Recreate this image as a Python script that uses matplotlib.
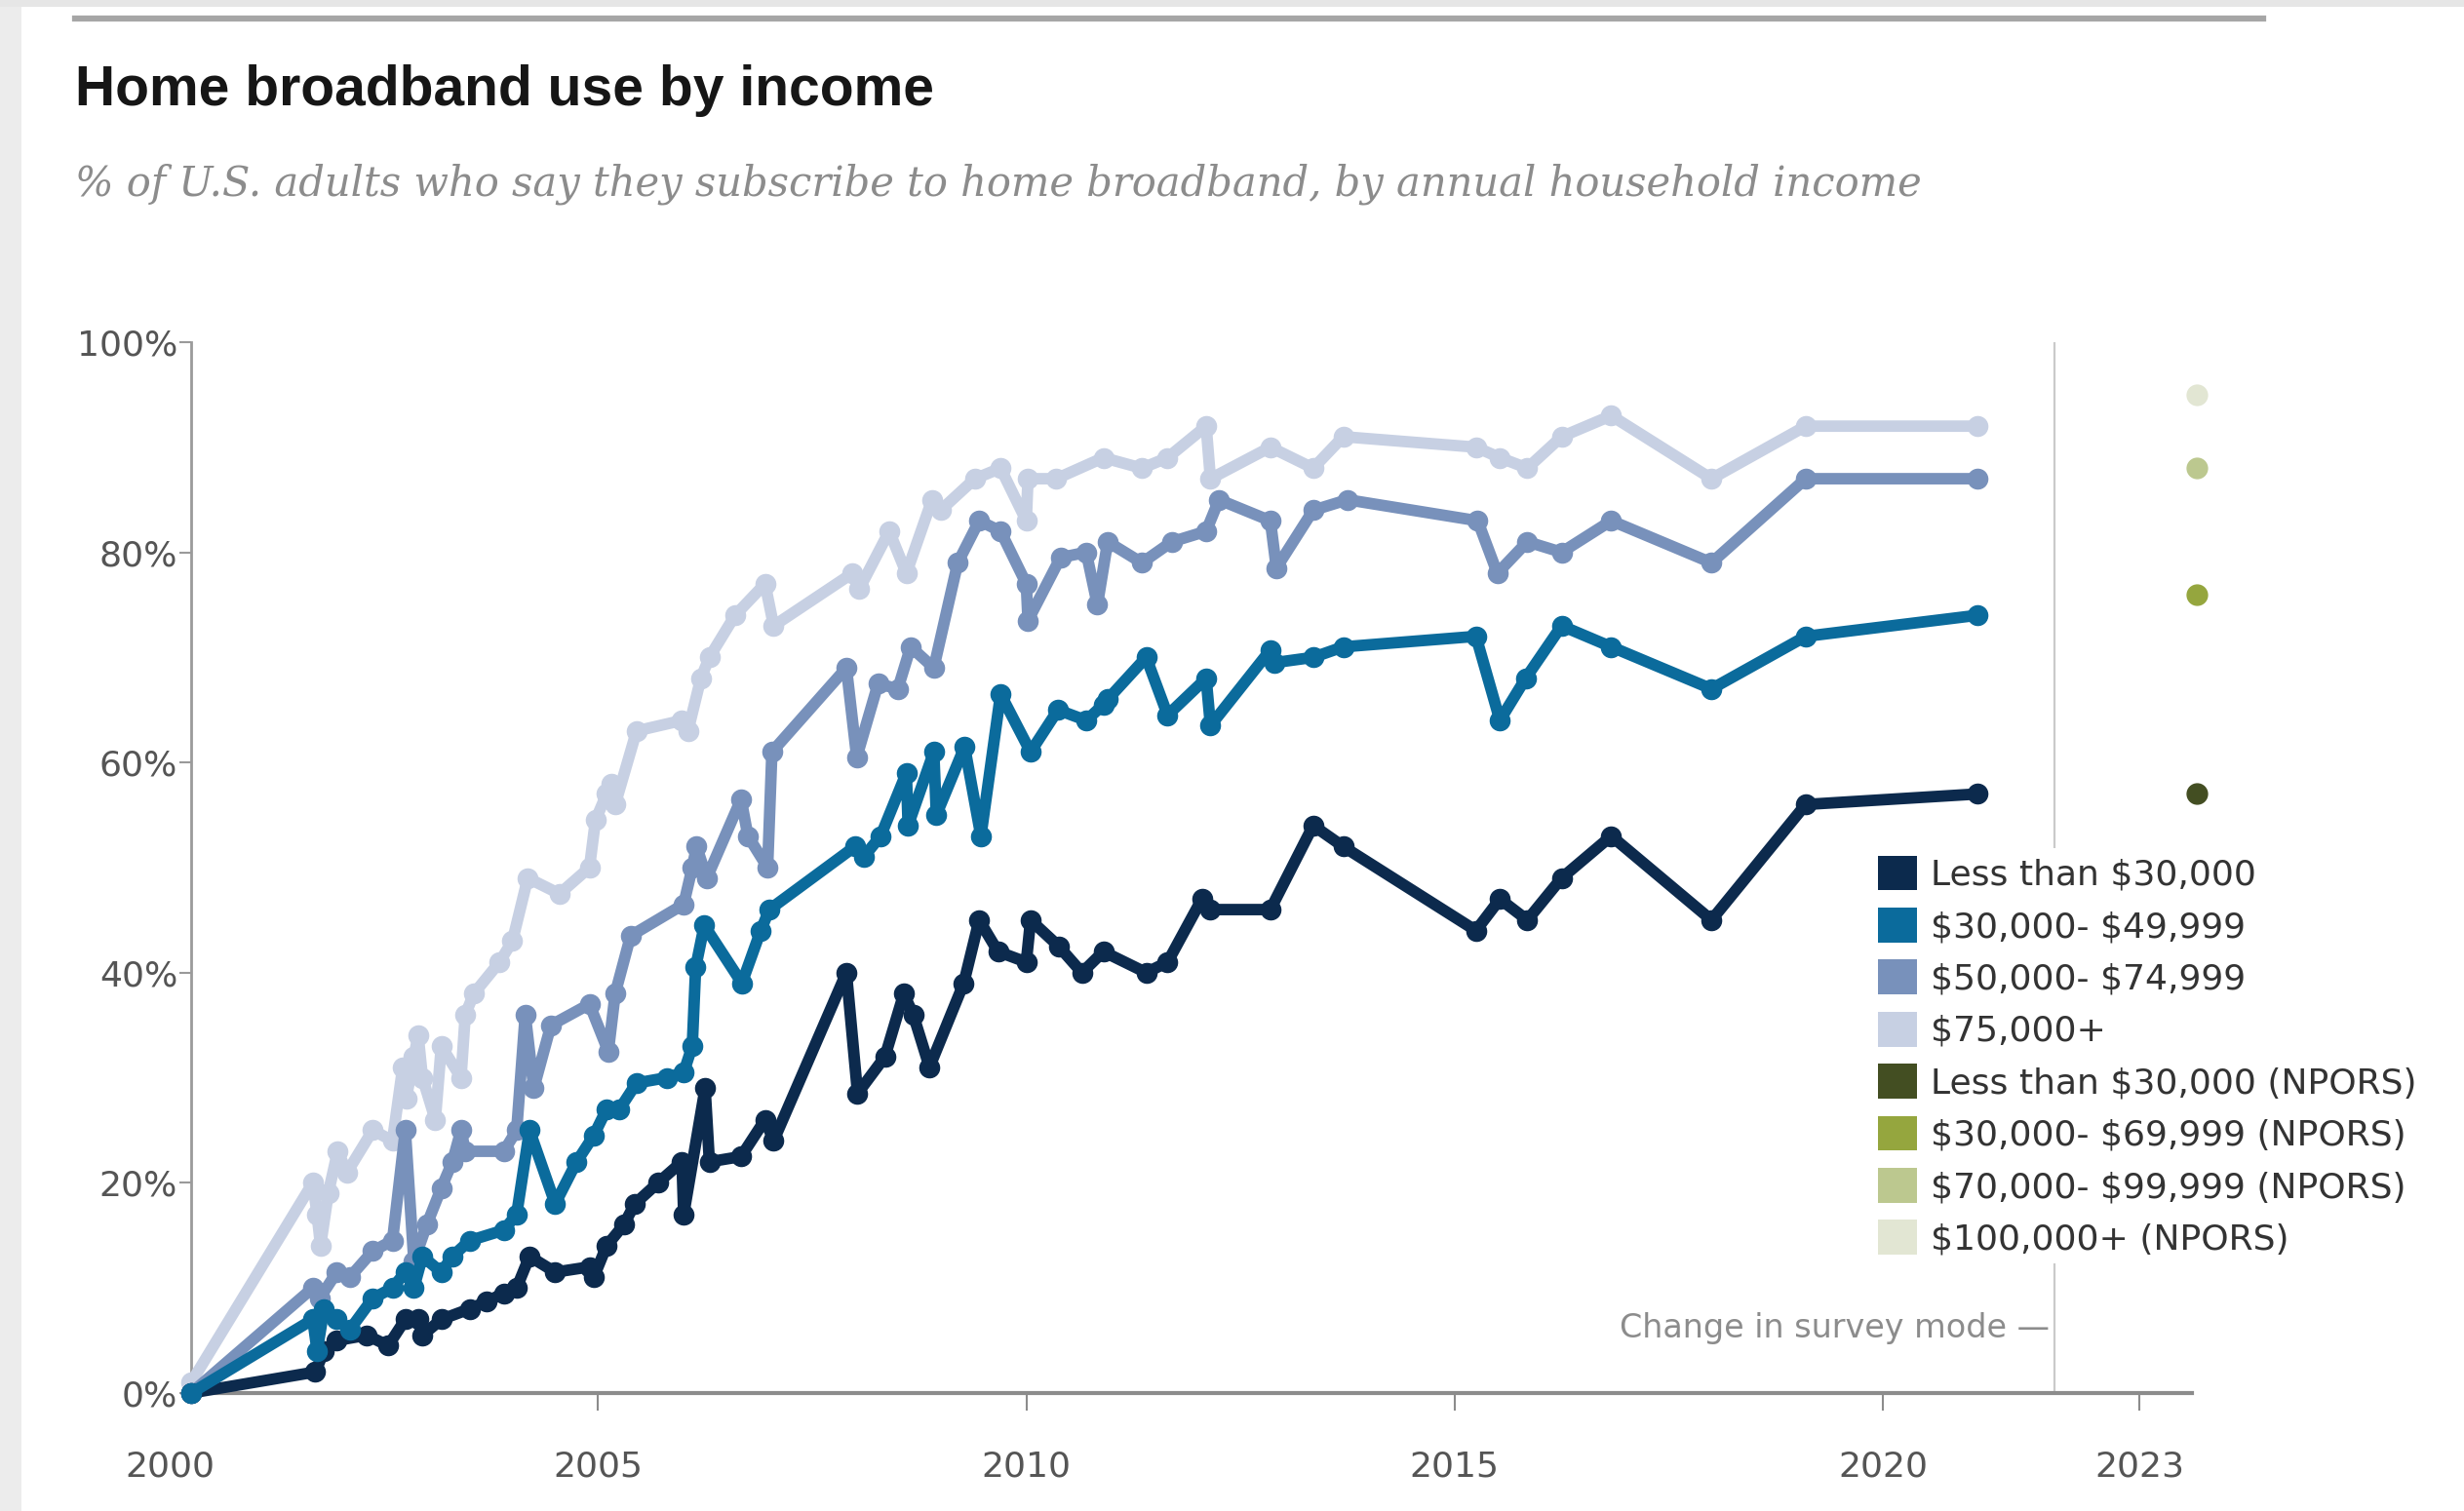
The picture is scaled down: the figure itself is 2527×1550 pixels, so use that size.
import matplotlib
matplotlib.use('Agg')
import matplotlib.pyplot as plt
from matplotlib.patches import Patch, Rectangle
from matplotlib.lines import Line2D

plt.rcParams['text.parse_math'] = False
plt.rcParams['font.family'] = 'DejaVu Sans'

# Survey dates (decimal years) and % with home broadband, by income
years_lt30 = [2000.25, 2001.7, 2001.8, 2001.95, 2002.3, 2002.55, 2002.75, 2002.9, 2002.95, 2003.17,
              2003.5, 2003.7, 2003.9, 2004.05, 2004.2, 2004.5, 2004.9, 2004.95, 2005.1, 2005.3,
              2005.43, 2005.7, 2005.98, 2006.0, 2006.25, 2006.3, 2006.67, 2006.95, 2007.05, 2007.9,
              2008.03, 2008.35, 2008.57, 2008.68, 2008.87, 2009.27, 2009.45, 2009.67, 2010.0, 2010.05,
              2010.38, 2010.65, 2010.9, 2011.4, 2011.65, 2012.05, 2012.15, 2012.85, 2013.35, 2013.7,
              2015.25, 2015.53, 2015.85, 2016.25, 2016.83, 2018.0, 2019.1, 2021.1]
vals_lt30 = [0, 2, 4, 5, 5.5, 4.5, 7, 7, 5.5, 7,
             8, 8.7, 9.5, 10, 13, 11.5, 12, 11, 14, 16,
             18, 20, 22, 17, 29, 22, 22.5, 26, 24, 40,
             28.5, 32, 38, 36, 31, 39, 45, 42, 41, 45,
             42.5, 40, 42, 40, 41, 47, 46, 46, 54, 52,
             44, 47, 45, 49, 53, 45, 56, 57]

years_30_50 = [2000.25, 2001.67, 2001.72, 2001.8, 2001.95, 2002.1, 2002.37, 2002.6, 2002.75, 2002.85,
               2002.95, 2003.17, 2003.3, 2003.5, 2003.9, 2004.05, 2004.2, 2004.5, 2004.75, 2004.95,
               2005.1, 2005.25, 2005.45, 2005.8, 2006.0, 2006.1, 2006.14, 2006.24, 2006.68, 2006.9,
               2007.0, 2008.0, 2008.1, 2008.3, 2008.6, 2008.62, 2008.92, 2008.95, 2009.28, 2009.47,
               2009.7, 2010.05, 2010.37, 2010.7, 2010.9, 2010.95, 2011.4, 2011.65, 2012.1, 2012.15,
               2012.85, 2012.9, 2013.35, 2013.7, 2015.25, 2015.53, 2015.83, 2016.25, 2016.83, 2018.0,
               2019.1, 2021.1]
vals_30_50 = [0, 7, 4, 8, 7, 6, 9, 10, 11.5, 10,
              13, 11.5, 13, 14.5, 15.5, 17, 25, 18, 22, 24.5,
              27, 27, 29.5, 30, 30.5, 33, 40.5, 44.5, 39, 44,
              46, 52, 51, 53, 59, 54, 61, 55, 61.5, 53,
              66.5, 61, 65, 64, 65.5, 66, 70, 64.5, 68, 63.5,
              70.7, 69.5, 70, 71, 72, 64, 68, 73, 71, 67,
              72, 74]

years_50_75 = [2000.25, 2001.67, 2001.75, 2001.95, 2002.1, 2002.37, 2002.6, 2002.75, 2002.85, 2003.0,
               2003.17, 2003.3, 2003.4, 2003.45, 2003.9, 2004.05, 2004.15, 2004.25, 2004.45, 2004.9,
               2005.12, 2005.2, 2005.38, 2006.0, 2006.1, 2006.15, 2006.27, 2006.67, 2006.75, 2006.98,
               2007.03, 2007.9, 2008.02, 2008.27, 2008.5, 2008.65, 2008.92, 2009.2, 2009.45, 2009.7,
               2010.0, 2010.02, 2010.4, 2010.7, 2010.83, 2010.95, 2011.35, 2011.7, 2012.1, 2012.25,
               2012.85, 2012.92, 2013.35, 2013.75, 2015.27, 2015.5, 2015.85, 2016.25, 2016.83, 2018.0,
               2019.1, 2021.1]
vals_50_75 = [0, 10, 9, 11.5, 11, 13.5, 14.5, 25, 12.5, 16,
              19.5, 22, 25, 23, 23, 25, 36, 29, 35, 37,
              32.5, 38, 43.5, 46.5, 50, 52, 49, 56.5, 53, 50,
              61, 69, 60.5, 67.5, 67, 71, 69, 79, 83, 82,
              77, 73.5, 79.5, 80, 75, 81, 79, 81, 82, 85,
              83, 78.5, 84, 85, 83, 78, 81, 80, 83, 79,
              87, 87]

years_75 = [2000.25, 2001.67, 2001.72, 2001.76, 2001.85, 2001.96, 2002.07, 2002.37, 2002.6, 2002.72,
            2002.76, 2002.85, 2002.9, 2002.95, 2003.1, 2003.17, 2003.4, 2003.45, 2003.55, 2003.85,
            2004.0, 2004.18, 2004.55, 2004.9, 2004.97, 2005.1, 2005.15, 2005.2, 2005.45, 2005.98,
            2006.05, 2006.2, 2006.3, 2006.6, 2006.95, 2007.05, 2007.97, 2008.05, 2008.4, 2008.6,
            2008.9, 2009.0, 2009.4, 2009.7, 2010.0, 2010.02, 2010.35, 2010.9, 2011.35, 2011.65,
            2012.1, 2012.15, 2012.85, 2013.35, 2013.7, 2015.25, 2015.53, 2015.85, 2016.25, 2016.83,
            2018.0, 2019.1, 2021.1]
vals_75 = [1, 20, 17, 14, 19, 23, 21, 25, 24, 31,
           28, 32, 34, 30, 26, 33, 30, 36, 38, 41,
           43, 49, 47.5, 50, 54.5, 57, 58, 56, 63, 64,
           63, 68, 70, 74, 77, 73, 78, 76.5, 82, 78,
           85, 84, 87, 88, 83, 87, 87, 89, 88, 89,
           92, 87, 90, 88, 91, 90, 89, 88, 91, 93,
           87, 92, 92]

# NPORS 2023 results
npors_year = 2023.67
npors_vals = [57, 76, 88, 95]

labels = ['Less than $30,000', '$30,000- $49,999', '$50,000- $74,999', '$75,000+',
          'Less than $30,000 (NPORS)', '$30,000- $69,999 (NPORS)',
          '$70,000- $99,999 (NPORS)', '$100,000+ (NPORS)']
blue_colors = ['#0c2a4d', '#0b6b9c', '#7891bb', '#c7d0e3']
green_colors = ['#434e22', '#95a63e', '#bcc88f', '#e2e6d3']

fig = plt.figure(figsize=(25.27, 15.5), dpi=100)
fig.patch.set_facecolor('white')

# screenshot frame: light gray strips at left and top
fig.add_artist(Rectangle((0, 0), 22 / 2527, 1, transform=fig.transFigure,
                         facecolor='#ececec', edgecolor='none'))
fig.add_artist(Rectangle((0, 1 - 7 / 1550), 1, 7 / 1550, transform=fig.transFigure,
                         facecolor='#e6e6e6', edgecolor='none'))
# top rule
fig.add_artist(Line2D([77 / 2527, 2321 / 2527], [1 - 19 / 1550] * 2,
                      transform=fig.transFigure, color='#a6a6a6', lw=4.5))

fig.text(77 / 2527, 1 - 108 / 1550, 'Home broadband use by income',
         family='Liberation Sans', weight='bold', fontsize=41, color='#161616', va='baseline')
fig.text(77 / 2527, 1 - 200 / 1550,
         '% of U.S. adults who say they subscribe to home broadband, by annual household income',
         family='DejaVu Serif', style='italic', fontsize=30, color='#8c8c8c', va='baseline')

ax = fig.add_axes([0.0776, 0.0781, 0.8120, 0.6955])
ax.set_xlim(2000.25, 2023.61)
ax.set_ylim(0, 100)

# survey mode change
ax.plot([2022, 2022], [0, 100], color='#cacaca', lw=1.6, zorder=1)
ax.text(2021.95, 6.2, 'Change in survey mode \u2014', ha='right', va='center',
        fontsize=24, color='#8c8c8c')

series = [(years_75, vals_75, blue_colors[3]),
          (years_50_75, vals_50_75, blue_colors[2]),
          (years_lt30, vals_lt30, blue_colors[0]),
          (years_30_50, vals_30_50, blue_colors[1])]
for xs, ys, c in series:
    ax.plot(xs, ys, color=c, lw=8.5, marker='o', ms=14.5, solid_joinstyle='round',
            solid_capstyle='round', clip_on=False, zorder=3)

for v, c in zip(npors_vals, green_colors):
    ax.plot([npors_year], [v], marker='o', ms=15, color=c, linestyle='none',
            clip_on=False, zorder=3)

for s in ['top', 'right']:
    ax.spines[s].set_visible(False)
ax.spines['left'].set_color('#9a9a9a')
ax.spines['left'].set_linewidth(2)
ax.spines['bottom'].set_color('#8c8c8c')
ax.spines['bottom'].set_linewidth(3)

ax.set_yticks([0, 20, 40, 60, 80, 100])
ax.set_yticklabels(['0%', '20%', '40%', '60%', '80%', '100%'])
ax.tick_params(axis='y', length=9, width=1.5, color='#9a9a9a', pad=1,
               labelsize=26, labelcolor='#555555')
ax.set_xticks([2005, 2010, 2015, 2020, 2023])
ax.set_xticklabels(['2005', '2010', '2015', '2020', '2023'])
ax.tick_params(axis='x', length=13, width=1.5, color='#8c8c8c', pad=29,
               labelsize=26, labelcolor='#555555')
ax.annotate('2000', xy=(2000, 0), xycoords=('data', 'axes fraction'),
            xytext=(0, -42), textcoords='offset points', ha='center', va='top',
            fontsize=26, color='#555555', annotation_clip=False)

handles = [Patch(facecolor=c, edgecolor='none', label=l)
           for c, l in zip(blue_colors + green_colors, labels)]
leg = ax.legend(handles=handles, loc='upper left', bbox_to_anchor=(0.7594, 0.4385),
                bbox_transform=fig.transFigure, fontsize=26, handlelength=1.1,
                handleheight=1.15, handletextpad=0.4, labelspacing=0.45, borderpad=0.2,
                borderaxespad=0, frameon=True, fancybox=False, framealpha=1,
                edgecolor='none', facecolor='white')
for t in leg.get_texts():
    t.set_color('#333333')
leg.set_zorder(10)

fig.savefig('out.png', dpi=100, facecolor='white')
